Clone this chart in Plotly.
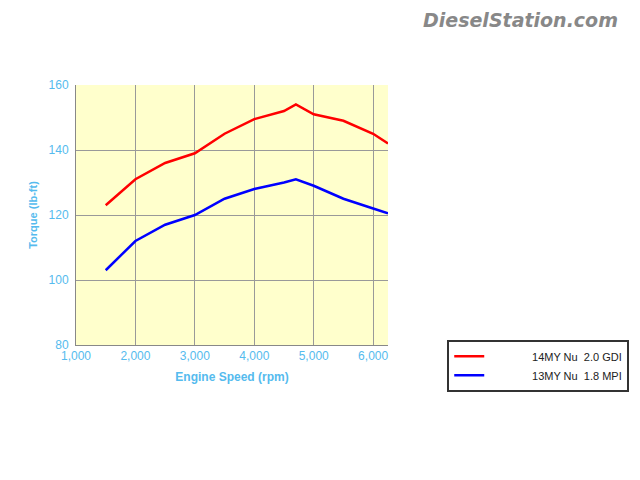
import plotly.graph_objects as go

rpm = [1500, 2000, 2500, 3000, 3500, 4000, 4500, 4700, 5000, 5500, 6000, 6250]
gdi = [123, 131, 136, 139, 145, 149.5, 152, 154, 151, 149, 145, 142]
mpi = [103, 112, 117, 120, 125, 128, 130, 131, 129, 125, 122, 120.5]
xticks = [1000, 2000, 3000, 4000, 5000, 6000]
yticks = [80, 100, 120, 140, 160]

fig = go.Figure()
fig.add_trace(go.Scatter(x=rpm, y=gdi, mode="lines", name="              14MY Nu  2.0 GDI",
                         line=dict(color="#ff0000", width=2.5)))
fig.add_trace(go.Scatter(x=rpm, y=mpi, mode="lines", name="              13MY Nu  1.8 MPI",
                         line=dict(color="#0000ff", width=2.5)))

fig.update_layout(
    width=632, height=472,
    margin=dict(l=68, r=252, t=77, b=135, autoexpand=False),
    paper_bgcolor="white", plot_bgcolor="#ffffcc",
    font=dict(family="Liberation Sans, Arial", color="#55bbee", size=12),
    xaxis=dict(range=[1000, 6250], tickvals=xticks, tickformat=",d",
               showgrid=True, gridcolor="#999999", gridwidth=1,
               showline=True, linecolor="#888888", mirror=False,
               title=dict(text="<b>Engine Speed (rpm)</b>", standoff=10,
                          font=dict(size=12, color="#55bbee")),
               tickfont=dict(size=12, color="#55bbee"), zeroline=False),
    yaxis=dict(range=[80, 160], tickvals=yticks, ticklabelstandoff=4,
               showgrid=True, gridcolor="#999999", gridwidth=1,
               showline=True, linecolor="#888888",
               title=dict(text="<b>Torque (lb-ft)</b>", standoff=8,
                          font=dict(size=11, color="#55bbee")),
               tickfont=dict(size=12, color="#55bbee"), zeroline=False),
    showlegend=True,
    legend=dict(xref="container", yref="container", x=0.695, y=0.297,
                xanchor="left", yanchor="top",
                bgcolor="white", bordercolor="#333333", borderwidth=2,
                font=dict(size=11, color="#222222"), itemwidth=30,
                tracegroupgap=0, valign="middle"),
)
fig.add_annotation(text="<b><i>DieselStation.com</i></b>", xref="paper", yref="paper",
                   x=1.744, y=1.25, xanchor="right", yanchor="middle", showarrow=False,
                   font=dict(size=19, color="#888888", family="DejaVu Sans"))
fig.write_html("out.html")
